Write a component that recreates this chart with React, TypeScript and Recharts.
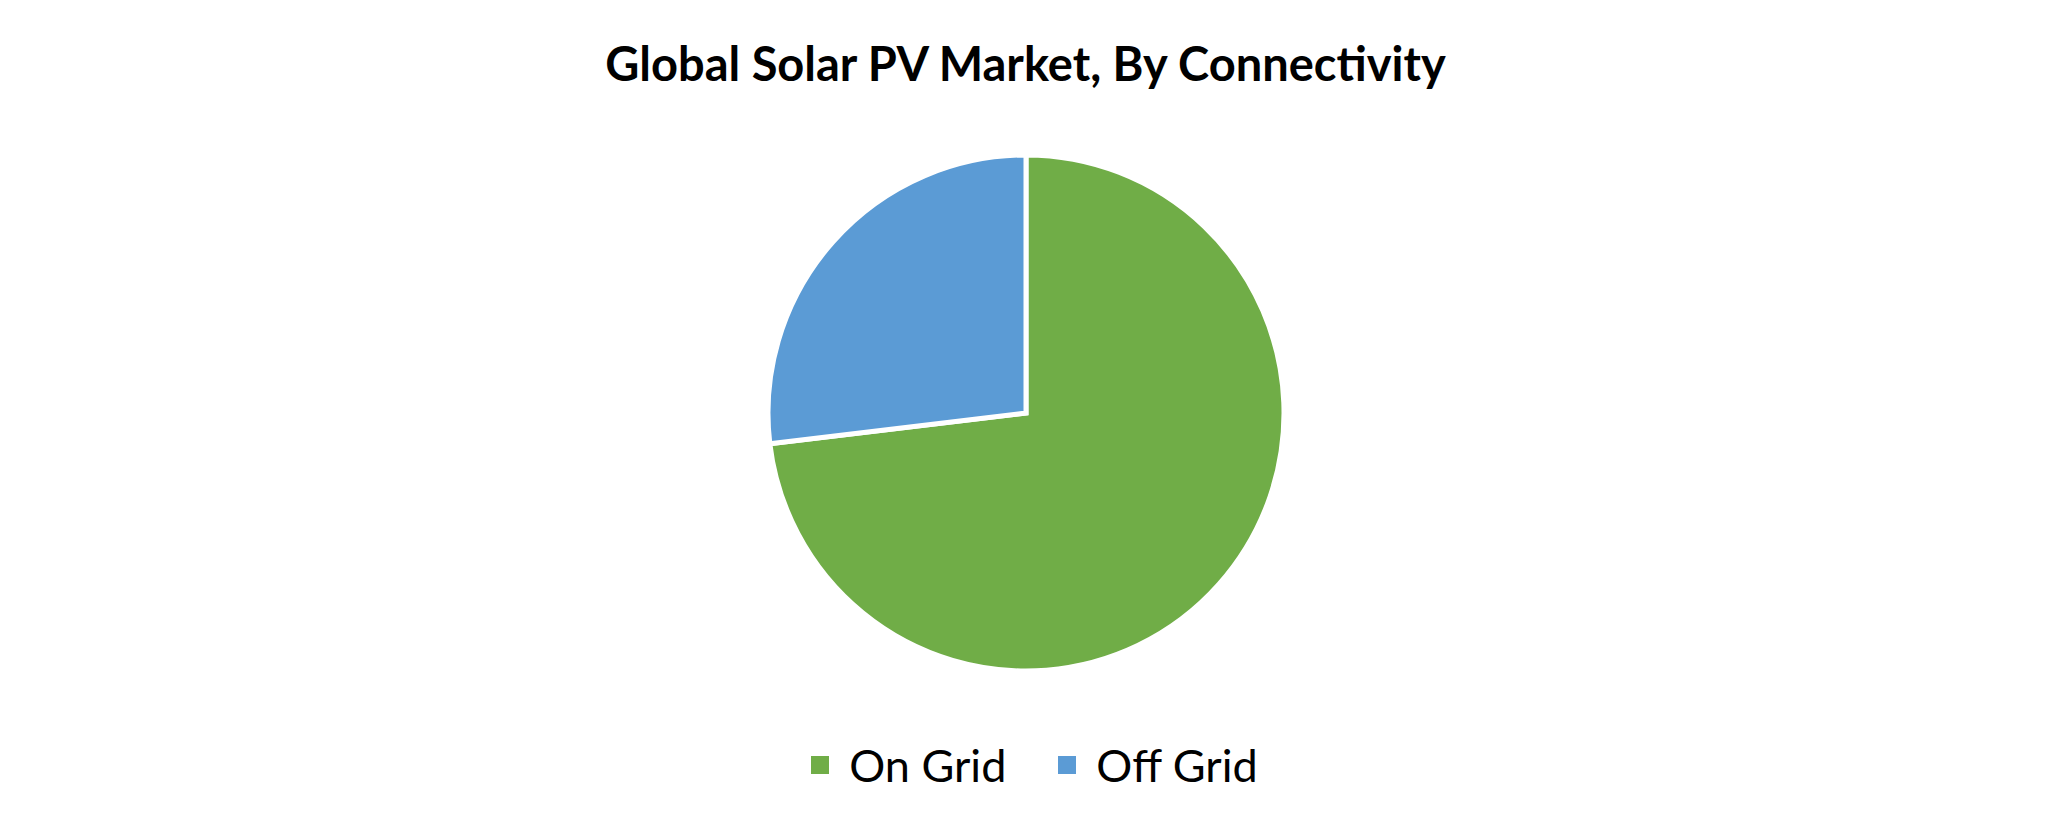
import React from "react";
import { PieChart, Pie, Cell, Legend } from "recharts";

// Connectivity segments and their share
const segments = ["On Grid", "Off Grid"];
const shares = [73.1, 26.9];
const colors = ["#70AD47", "#5B9BD5"];

const chartData = segments.map((name, i) => ({ name, value: shares[i] }));

const FONT = "Lato, 'Open Sans', sans-serif";

// legend drawn in data order (recharts 3 sorts its payload otherwise)
function LegendContent() {
  return (
    <div
      style={{
        display: "flex",
        justifyContent: "center",
        alignItems: "center",
        gap: 52,
        paddingLeft: 18,
        fontFamily: FONT,
        fontSize: 45,
        color: "#000",
      }}
    >
      {segments.map((name, i) => (
        <div key={name} style={{ display: "flex", alignItems: "center" }}>
          <span
            style={{
              display: "inline-block",
              width: 18,
              height: 18,
              background: colors[i],
              marginRight: 20,
            }}
          />
          <span>{name}</span>
        </div>
      ))}
    </div>
  );
}

export default function App() {
  return (
    <div
      style={{
        position: "absolute",
        left: 0,
        top: 0,
        width: 2051,
        height: 839,
        background: "#fff",
      }}
    >
      <div
        style={{
          position: "absolute",
          top: 35,
          left: 0,
          width: 2051,
          textAlign: "center",
          fontFamily: FONT,
          fontWeight: 700,
          fontSize: 47,
          color: "#000",
        }}
      >
        Global Solar PV Market, By Connectivity
      </div>
      <PieChart
        width={2051}
        height={839}
        margin={{ top: 0, right: 0, bottom: 0, left: 0 }}
      >
        <Pie
          data={chartData}
          dataKey="value"
          nameKey="name"
          cx={1026}
          cy={413}
          outerRadius={258}
          startAngle={90}
          endAngle={-270}
          stroke="#fff"
          strokeWidth={5}
          isAnimationActive={false}
        >
          {chartData.map((d, i) => (
            <Cell key={d.name} fill={colors[i]} />
          ))}
        </Pie>
        <Legend
          content={<LegendContent />}
          wrapperStyle={{ top: 738, left: 0, width: 2051 }}
        />
      </PieChart>
    </div>
  );
}
